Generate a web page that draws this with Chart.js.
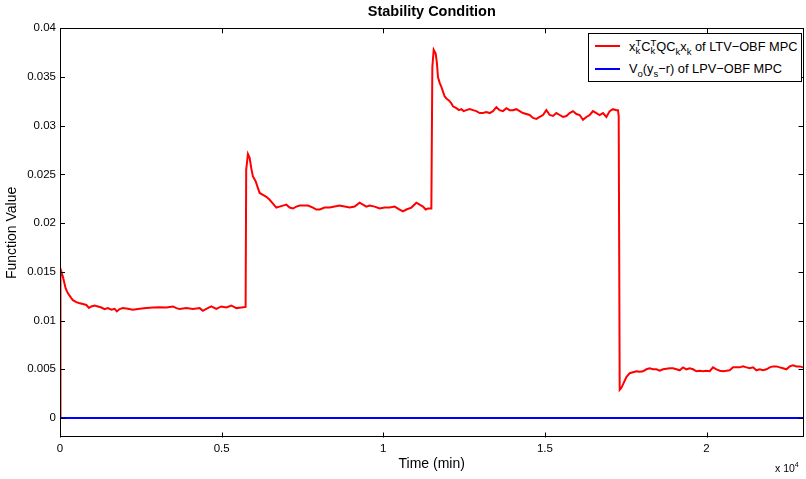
<!DOCTYPE html>
<html>
<head>
<meta charset="utf-8">
<script src="https://cdn.jsdelivr.net/npm/chart.js@4.4.1/dist/chart.umd.min.js"></script>
<style>
    body { margin: 0; background: #fff; }
    #wrap { position: relative; width: 806px; height: 479px; font-family: "Liberation Sans", Arial, sans-serif; color: #000; }
    #legendBox { position: absolute; left: 588px; top: 33px; width: 214px; height: 49px; box-sizing: border-box; border: 1px solid #000; background: #fff; font-size: 12.8px; }
    .row { position: absolute; left: 0; height: 14px; line-height: 14px; white-space: nowrap; }
    .swatch { position: absolute; left: 6px; top: 6px; width: 25px; height: 2px; }
    .lbl { position: absolute; left: 40px; top: 0; }
    .ss { display: inline-flex; flex-direction: column; font-size: 9.5px; line-height: 8px; vertical-align: 4.5px; }
    .sb { font-size: 9.5px; vertical-align: -4px; line-height: 8px; }
    #scaleNote { position: absolute; left: 775px; top: 461px; font-size: 10.5px; line-height: 12px; white-space: nowrap; }
    #scaleNote sup { font-size: 7px; vertical-align: 5px; line-height: 7px; }
</style>
</head>
<body>
<div id="wrap">
    <canvas id="stabilityChart" width="806" height="479"></canvas>
    <div id="legendBox">
        <div class="row" style="top:5px">
            <span class="swatch" style="background:#ff0000"></span>
            <span class="lbl">x<span class="ss"><span>T</span><span>k</span></span>C<span class="ss"><span>T</span><span>k</span></span>QC<span class="sb">k</span>x<span class="sb">k</span> of LTV−OBF MPC</span>
        </div>
        <div class="row" style="top:28px">
            <span class="swatch" style="background:#0000ff"></span>
            <span class="lbl">V<span class="sb">o</span>(y<span class="sb">s</span>−r) of LPV−OBF MPC</span>
        </div>
    </div>
    <div id="scaleNote">x 10<sup>4</sup></div>
</div>
<script>
// time in minutes
const timeMin = [
    0, 10, 20, 90, 175, 245, 350, 400, 505, 585, 710, 815, 895, 970, 1070, 1175, 1280, 1380, 1480, 1590,
    1690, 1760, 1845, 1945, 2100, 2255, 2465, 2670, 2875, 3080, 3290, 3495, 3600, 3700, 3910, 4110, 4320, 4420, 4525, 4680,
    4835, 4990, 5145, 5300, 5455, 5610, 5742,
    5760, 5814, 5866, 5919, 5968, 6052, 6123, 6176, 6278, 6383, 6485, 6587, 6692, 6794, 6896, 7002, 7104, 7206, 7311,
    7413, 7515, 7670, 7825, 7930, 8032, 8186, 8341, 8496, 8650, 8805, 8960, 9114, 9269, 9372, 9477, 9579, 9734, 9888,
    10043, 10198, 10352, 10507, 10609, 10714, 10869, 11024, 11126, 11228, 11312, 11383, 11488,
    11518, 11560, 11622, 11661, 11692, 11745, 11797, 11847, 11900, 11952, 12032, 12107, 12156, 12261, 12342, 12416, 12487,
    12571, 12673, 12775, 12880, 12982, 13085, 13190, 13292, 13394, 13499, 13601, 13703, 13809, 13911, 14013, 14118, 14220,
    14322, 14427, 14529, 14632, 14737, 14839, 14941, 15046, 15148, 15250, 15355, 15458, 15560, 15665, 15767, 15869, 15974,
    16076, 16178, 16284, 16386, 16488, 16593, 16695, 16797, 16902, 17004, 17107, 17212, 17261,
    17283, 17314, 17367, 17438, 17521, 17624, 17726, 17831, 17933, 18035, 18140, 18242, 18344, 18450, 18552, 18654, 18759,
    18861, 18963, 19069, 19171, 19273, 19378, 19480, 19582, 19688, 19790, 19892, 19997, 20099, 20201, 20306, 20408, 20510,
    20616, 20718, 20820, 20925, 21027, 21129, 21234, 21337, 21439, 21544, 21646, 21748, 21853, 21955, 22058, 22163, 22265,
    22367, 22472, 22574, 22676, 22782, 22884, 22986, 23000
];

// x_k^T C_k^T Q C_k x_k  (LTV-OBF MPC)
const ltvCost = [
    0, 0.0150, 0.0153, 0.0145, 0.0133, 0.0128, 0.0123, 0.0121, 0.0119, 0.0118, 0.0117, 0.0116, 0.0113, 0.01145, 0.01155, 0.01145, 0.01134, 0.01118, 0.01128, 0.01111,
    0.01121, 0.01094, 0.01118, 0.01128, 0.01121, 0.01111, 0.01121, 0.01128, 0.01134, 0.01138, 0.01134, 0.01145, 0.01128, 0.01118, 0.01128, 0.01118, 0.01128, 0.01100, 0.01121, 0.01145,
    0.01121, 0.01145, 0.01134, 0.01155, 0.01128, 0.01134, 0.01140,
    0.0255, 0.0271, 0.0267, 0.0256, 0.0248, 0.0243, 0.0236, 0.0231, 0.0229, 0.0227, 0.0224, 0.0220, 0.0216, 0.0217, 0.0218, 0.0219, 0.0216, 0.0215, 0.0217,
    0.0218, 0.0218, 0.0218, 0.0216, 0.0214, 0.0214, 0.0216, 0.0216, 0.0217, 0.0218, 0.0217, 0.0216, 0.0217, 0.0221, 0.0219, 0.0217, 0.0218, 0.0217, 0.0215,
    0.0216, 0.0216, 0.0217, 0.0214, 0.0212, 0.0214, 0.0216, 0.0221, 0.0219, 0.0217, 0.0214, 0.0215, 0.0215,
    0.0360, 0.0378, 0.0374, 0.0364, 0.0350, 0.0344, 0.0340, 0.0335, 0.0330, 0.0328, 0.0326, 0.0323, 0.0320, 0.0318, 0.0316, 0.0317, 0.0315,
    0.0316, 0.0317, 0.0316, 0.0315, 0.0313, 0.0313, 0.0314, 0.0313, 0.0315, 0.0319, 0.0316, 0.0315, 0.0318, 0.0316, 0.0316, 0.0317, 0.0315,
    0.0313, 0.0312, 0.0311, 0.0308, 0.0307, 0.0309, 0.0311, 0.0316, 0.0311, 0.0310, 0.0313, 0.0311, 0.0309, 0.0310, 0.0313, 0.0315, 0.0312,
    0.0311, 0.0306, 0.0309, 0.0311, 0.0315, 0.0313, 0.0311, 0.0313, 0.0309, 0.0315, 0.0317, 0.0316, 0.0316,
    0.0310, 0.0029, 0.0031, 0.0036, 0.0042, 0.0046, 0.0047, 0.0048, 0.00475, 0.0048, 0.0050, 0.0051, 0.0050, 0.0050, 0.00485, 0.0050, 0.00505,
    0.0051, 0.0051, 0.0050, 0.0049, 0.0052, 0.0050, 0.0051, 0.0050, 0.0048, 0.00485, 0.0048, 0.00485, 0.0048, 0.0052, 0.0050, 0.00485, 0.0048,
    0.00485, 0.0049, 0.0052, 0.0052, 0.0052, 0.0053, 0.0052, 0.0051, 0.0052, 0.0049, 0.0050, 0.0049, 0.0050, 0.0052, 0.0053, 0.0053, 0.0052,
    0.0051, 0.0050, 0.0053, 0.0054, 0.0053, 0.0053, 0.0052, 0.0052
];

// V_o(y_s - r)  (LPV-OBF MPC), flat at zero
const lpvTime = [0, 23000];
const lpvCost = [0, 0];

const xTicks = [0, 5000, 10000, 15000, 20000];
const xTickLabels = ["0", "0.5", "1", "1.5", "2"];
const yTicks = [0, 0.005, 0.01, 0.015, 0.02, 0.025, 0.03, 0.035, 0.04];
const yTickLabels = ["0", "0.005", "0.01", "0.015", "0.02", "0.025", "0.03", "0.035", "0.04"];

const fontFamily = "'Liberation Sans', Arial, sans-serif";

function toPoints(xs, ys) {
    return xs.map((t, i) => ({ x: t, y: ys[i] }));
}

// box round the plot and inward tick marks on all four sides
const matlabAxes = {
    id: "matlabAxes",
    afterDatasetsDraw(chart) {
        const { ctx, chartArea: a, scales: { x, y } } = chart;
        ctx.save();
        ctx.strokeStyle = "#000";
        ctx.lineWidth = 1;
        ctx.beginPath();
        xTicks.forEach(v => {
            const px = Math.round(x.getPixelForValue(v)) + 0.5;
            ctx.moveTo(px, a.bottom); ctx.lineTo(px, a.bottom - 5);
            ctx.moveTo(px, a.top); ctx.lineTo(px, a.top + 5);
        });
        yTicks.forEach(v => {
            const py = Math.round(y.getPixelForValue(v)) + 0.5;
            ctx.moveTo(a.left, py); ctx.lineTo(a.left + 5, py);
            ctx.moveTo(a.right, py); ctx.lineTo(a.right - 5, py);
        });
        ctx.stroke();
        ctx.strokeRect(Math.round(a.left) + 0.5, Math.round(a.top) + 0.5, Math.round(a.width) - 1, Math.round(a.height) - 1);
        ctx.restore();
    }
};

new Chart(document.getElementById("stabilityChart"), {
    type: "line",
    data: {
        datasets: [{
            label: "LTV-OBF MPC",
            data: toPoints(timeMin, ltvCost),
            borderColor: "#ff0000",
            borderWidth: 2,
            pointRadius: 0,
            tension: 0,
            order: 1
        }, {
            label: "LPV-OBF MPC",
            data: toPoints(lpvTime, lpvCost),
            borderColor: "#0000ff",
            borderWidth: 2,
            pointRadius: 0,
            tension: 0,
            order: 0
        }]
    },
    options: {
        responsive: false,
        animation: false,
        parsing: false,
        layout: { padding: { left: 0, right: 2.5, top: 0, bottom: 0 } },
        plugins: {
            legend: { display: false },
            tooltip: { enabled: false },
            title: {
                display: true,
                text: "Stability Condition",
                fullSize: false,
                color: "#000",
                font: { family: fontFamily, size: 14.5, weight: "bold" },
                padding: { top: 3.5, bottom: 7.4 }
            }
        },
        scales: {
            x: {
                type: "linear",
                min: 0,
                max: 23000,
                afterBuildTicks: scale => { scale.ticks = xTicks.map(v => ({ value: v })); },
                afterFit: scale => { scale.height = 41.5; },
                ticks: {
                    color: "#000",
                    padding: 4,
                    maxRotation: 0,
                    font: { family: fontFamily, size: 11.5 },
                    callback: function (value) {
                        const i = xTicks.indexOf(value);
                        return i >= 0 ? xTickLabels[i] : "";
                    }
                },
                grid: { display: false, drawTicks: false },
                border: { display: false },
                title: {
                    display: true,
                    text: "Time (min)",
                    color: "#000",
                    font: { family: fontFamily, size: 14 },
                    padding: { top: 0, bottom: 6.6 }
                }
            },
            y: {
                type: "linear",
                min: -0.002,
                max: 0.04,
                afterBuildTicks: scale => { scale.ticks = yTicks.map(v => ({ value: v })); },
                afterFit: scale => { scale.width = 60; },
                ticks: {
                    color: "#000",
                    padding: 4,
                    font: { family: fontFamily, size: 11.5 },
                    callback: function (value) {
                        const i = yTicks.indexOf(value);
                        return i >= 0 ? yTickLabels[i] : "";
                    }
                },
                grid: { display: false, drawTicks: false },
                border: { display: false },
                title: {
                    display: true,
                    text: "Function Value",
                    color: "#000",
                    font: { family: fontFamily, size: 14 },
                    padding: { top: 3.6, bottom: 0 }
                }
            }
        }
    },
    plugins: [matlabAxes]
});
</script>
</body>
</html>
